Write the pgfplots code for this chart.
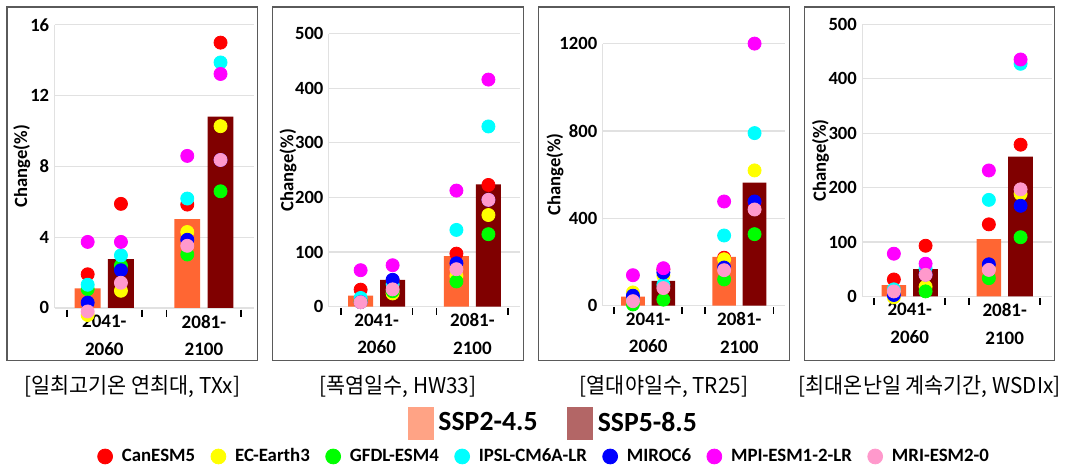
\documentclass[border=0pt]{standalone}
\usepackage{fontspec}
\setmainfont{Carlito}
\newfontfamily\kr[FakeStretch=0.95]{Noto Sans CJK KR}
\usepackage{pgfplots}
\pgfplotsset{compat=1.18}
\usepackage{pgfplotstable}

\definecolor{barA}{RGB}{255,102,51}
\definecolor{barB}{RGB}{128,0,0}
\definecolor{legA}{RGB}{255,163,133}
\definecolor{legB}{RGB}{179,102,102}
\definecolor{cRed}{RGB}{255,0,0}
\definecolor{cYel}{RGB}{255,255,0}
\definecolor{cGrn}{RGB}{0,255,0}
\definecolor{cCya}{RGB}{0,255,255}
\definecolor{cBlu}{RGB}{0,0,255}
\definecolor{cMag}{RGB}{255,0,255}
\definecolor{cPnk}{RGB}{255,153,204}
\definecolor{gridc}{RGB}{225,225,225}
\definecolor{framec}{RGB}{90,90,90}

% x: 1 = 2041-2060, 2 = 2081-2100; -/+0.167 = SSP2-4.5 / SSP5-8.5
\pgfplotstableread{
x ssp245 ssp585
1 1.10 2.76
2 5.02 10.81
}\barsTXx
\pgfplotstableread{
x red yel grn cya blu mag pnk
0.833 1.90 -0.40 1.06 1.31 0.30 3.73 -0.20
1.167 5.88 0.97 2.39 2.97 2.13 3.73 1.42
1.833 5.84 4.29 3.02 6.18 3.85 8.59 3.51
2.167 14.99 10.27 6.59 13.87 8.36 13.22 8.36
}\dotsTXx

\pgfplotstableread{
x ssp245 ssp585
1 20 49
2 92.6 224
}\barsHW
\pgfplotstableread{
x red yel grn cya blu mag pnk
0.833 30.9 8 10 15.7 8 66.6 7.9
1.167 48 24 28 41 49 75.7 31.5
1.833 96.9 56 46 140.4 79.3 212.5 68.4
2.167 222.8 167.7 132.6 330 195.5 415.9 195.5
}\dotsHW

\pgfplotstableread{
x ssp245 ssp585
1 40.9 113.5
2 222.5 563
}\barsTR
\pgfplotstableread{
x red yel grn cya blu mag pnk
0.833 30 60 5 35 45 139 20
1.167 165 136 27 95 151 171 80
1.833 219 212 119.5 320.8 174 476.7 162
2.167 470 619 327 790 476.7 1200 440
}\dotsTR

\pgfplotstableread{
x ssp245 ssp585
1 20.7 49.8
2 105 257
}\barsWS
\pgfplotstableread{
x red yel grn cya blu mag pnk
0.833 31 -1.8 8 12.8 2.4 78.4 9
1.167 93 17.6 9.1 51.6 40 60 39.5
1.833 132.4 50 33.4 177.4 58.9 231.5 48.6
2.167 278.9 188.3 108.7 427.7 166.5 435.6 196.8
}\dotsWS

\pgfplotsset{
  panel/.style={
    scale only axis, anchor=south west,
    xmin=0.5, xmax=2.5, ymin=0, clip=false,
    axis x line*=bottom, axis y line*=left,
    axis line style={gridc, line width=0.6pt, -},
    ymajorgrids, grid style={gridc, line width=0.6pt},
    tick align=outside, major tick length=0pt,
    xtick style={draw=none}, ytick style={draw=none},
    xtick={1,2}, xticklabels={{2041-\\[2.5pt]2060},{2081-\\[2.5pt]2100}},
    xticklabel style={font=\fontsize{9.6}{11.5}\selectfont\bfseries, align=center},
    yticklabel style={font=\fontsize{9.4}{10}\selectfont\bfseries, inner xsep=0pt, xshift=-2.5pt},
    /pgf/number format/assume math mode=true,
    /pgf/number format/1000 sep={},
    scaled y ticks=false,
    ylabel={Change(\%)},
    ylabel style={font=\fontsize{9.4}{11}\selectfont\bfseries, anchor=center},
  },
  dot/.style={only marks, mark=*, mark size=3.3pt, mark options={draw=none}},
}

\newcommand{\bars}[1]{%
  \addplot[ybar, bar width=0.26, bar shift=-0.167, fill=barA, draw=none] table[x=x,y=ssp245]{#1};
  \addplot[ybar, bar width=0.26, bar shift=0.167, fill=barB, draw=none] table[x=x,y=ssp585]{#1};
}
\newcommand{\modeldots}[1]{%
  \addplot[dot, color=cRed] table[x=x,y=red]{#1};
  \addplot[dot, color=cYel] table[x=x,y=yel]{#1};
  \addplot[dot, color=cGrn] table[x=x,y=grn]{#1};
  \addplot[dot, color=cCya] table[x=x,y=cya]{#1};
  \addplot[dot, color=cBlu] table[x=x,y=blu]{#1};
  \addplot[dot, color=cMag] table[x=x,y=mag]{#1};
  \addplot[dot, color=cPnk] table[x=x,y=pnk]{#1};
}
\newcommand{\seps}{%
  \draw[black, line width=0.9pt] ([yshift=-0.8pt]axis cs:0.625,0) -- ([yshift=-4.5pt]axis cs:0.625,0);
  \draw[black, line width=0.9pt] ([yshift=-0.8pt]axis cs:1.375,0) -- ([yshift=-4.5pt]axis cs:1.375,0);
  \draw[black, line width=0.9pt] ([yshift=-0.8pt]axis cs:1.625,0) -- ([yshift=-4.5pt]axis cs:1.625,0);
  \draw[black, line width=0.9pt] ([yshift=-0.8pt]axis cs:2.375,0) -- ([yshift=-4.5pt]axis cs:2.375,0);
}

\begin{document}
\begin{tikzpicture}
\path (0pt,0pt) rectangle (533.5pt,-234pt);

% frames
\draw[framec, line width=0.6pt] (3.5pt,-3.5pt) rectangle (130pt,-182pt);
\draw[framec, line width=0.6pt] (137.5pt,-3.5pt) rectangle (264pt,-182pt);
\draw[framec, line width=0.6pt] (271.5pt,-3.5pt) rectangle (398.5pt,-182pt);
\draw[framec, line width=0.6pt] (406pt,-3.5pt) rectangle (532pt,-182pt);

\begin{axis}[panel, at={(27.5pt,-155.35pt)}, width=100.5pt, height=142.85pt,
  ymax=16, ytick={0,4,8,12,16},
  ylabel style={at={(axis description cs:-0.164,0.5)}}]
\bars{\barsTXx}
\modeldots{\dotsTXx}
\seps
\end{axis}

\begin{axis}[panel, at={(165.85pt,-154.65pt)}, width=96.65pt, height=137.65pt,
  ymax=500, ytick={0,100,...,500},
  ylabel style={at={(axis description cs:-0.212,0.5)}}]
\bars{\barsHW}
\modeldots{\dotsHW}
\seps
\end{axis}

\begin{axis}[panel, at={(304pt,-154.15pt)}, width=92pt, height=132.15pt,
  ymax=1200, ytick={0,400,800,1200},
  ylabel style={at={(axis description cs:-0.261,0.5)}}]
\bars{\barsTR}
\modeldots{\dotsTR}
\seps
\end{axis}

\begin{axis}[panel, at={(435pt,-149.5pt)}, width=95.85pt, height=137.15pt,
  ymax=500, ytick={0,100,...,500},
  ylabel style={at={(axis description cs:-0.219,0.5)}}]
\bars{\barsWS}
\modeldots{\dotsWS}
\seps
\end{axis}

% captions
\begin{scope}[every node/.style={font=\kr\fontsize{11}{13}\selectfont}]
\node at (66.75pt,-195pt) {[일최고기온 연최대, TXx]};
\node at (200.75pt,-195pt) {[폭염일수, HW33]};
\node at (335pt,-195pt) {[열대야일수, TR25]};
\node at (469pt,-195pt) {[최대온난일 계속기간, WSDIx]};
\end{scope}

% scenario legend
\begin{axis}[hide axis, scale only axis, anchor=south west, at={(0pt,-234pt)},
  width=533.5pt, height=234pt, xmin=0, xmax=1, ymin=0, ymax=1,
  legend columns=-1, legend cell align=left,
  legend style={at={(0.5243,0.0876)}, anchor=center, draw=none, fill=none,
    inner sep=0pt, font=\fontsize{14}{16}\selectfont\bfseries,
    /tikz/every odd column/.append style={column sep=0.5pt},
    /tikz/every even column/.append style={column sep=13pt}}]
\addlegendimage{legend image code/.code={\fill[legA] (0pt,-8pt) rectangle (12.5pt,8pt);}}
\addlegendentry{SSP2-4.5}
\addlegendimage{legend image code/.code={\fill[legB] (0pt,-8pt) rectangle (12.5pt,8pt);}}
\addlegendentry{SSP5-8.5}
\end{axis}

% model legend
\begin{axis}[hide axis, scale only axis, anchor=south west, at={(0pt,-234pt)},
  width=533.5pt, height=234pt, xmin=0, xmax=1, ymin=0, ymax=1,
  legend columns=-1, legend cell align=left,
  legend style={at={(0.5155,0.0158)}, anchor=center, draw=none, fill=none,
    inner sep=0pt, font=\fontsize{9.5}{11}\selectfont\bfseries,
    /tikz/every odd column/.append style={column sep=2.5pt},
    /tikz/every even column/.append style={column sep=5.8pt}}]
\addlegendimage{legend image code/.code={\fill[cRed] (3.75pt,0pt) circle (3.75pt);}}
\addlegendentry{CanESM5}
\addlegendimage{legend image code/.code={\fill[cYel] (3.75pt,0pt) circle (3.75pt);}}
\addlegendentry{EC-Earth3}
\addlegendimage{legend image code/.code={\fill[cGrn] (3.75pt,0pt) circle (3.75pt);}}
\addlegendentry{GFDL-ESM4}
\addlegendimage{legend image code/.code={\fill[cCya] (3.75pt,0pt) circle (3.75pt);}}
\addlegendentry{IPSL-CM6A-LR}
\addlegendimage{legend image code/.code={\fill[cBlu] (3.75pt,0pt) circle (3.75pt);}}
\addlegendentry{MIROC6}
\addlegendimage{legend image code/.code={\fill[cMag] (3.75pt,0pt) circle (3.75pt);}}
\addlegendentry{MPI-ESM1-2-LR}
\addlegendimage{legend image code/.code={\fill[cPnk] (3.75pt,0pt) circle (3.75pt);}}
\addlegendentry{MRI-ESM2-0}
\end{axis}
\end{tikzpicture}
\end{document}
